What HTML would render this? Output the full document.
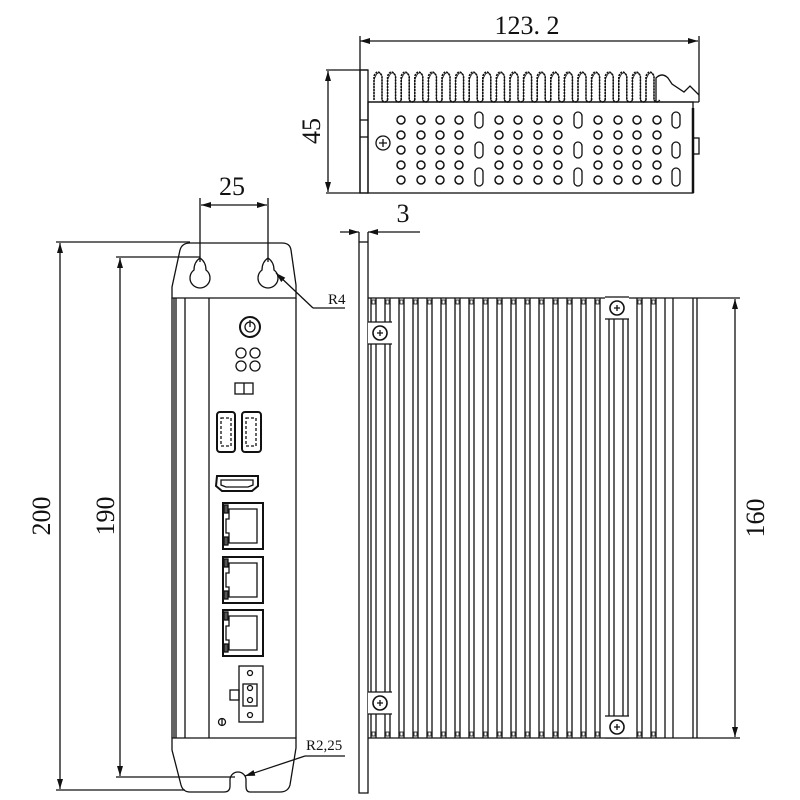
<!DOCTYPE html>
<html><head><meta charset="utf-8"><style>
html,body{margin:0;padding:0;background:#fff;}
svg{display:block;}
text{font-family:"Liberation Serif",serif;fill:#111;}
</style></head><body>
<svg id="s" width="800" height="800" viewBox="0 0 800 800" xmlns="http://www.w3.org/2000/svg" stroke="#111" fill="none" stroke-width="1.3">
<defs>
<marker id="a" viewBox="0 0 10 6" refX="10" refY="3" markerWidth="10" markerHeight="6" orient="auto-start-reverse" markerUnits="userSpaceOnUse"><path d="M0,0 L10,3 L0,6 z" fill="#111" stroke="none"/></marker>
</defs>
<!-- TOP VIEW -->
<line x1="360" y1="41" x2="698" y2="41" marker-start="url(#a)" marker-end="url(#a)"/>
<line x1="360" y1="36" x2="360" y2="193"/>
<line x1="699" y1="36" x2="699" y2="102"/>
<text x="527" y="34" font-size="26" text-anchor="middle" stroke="none">123. 2</text>
<line x1="326" y1="70" x2="368" y2="70"/>
<line x1="326" y1="193" x2="368" y2="193"/>
<line x1="328" y1="71" x2="328" y2="192" marker-start="url(#a)" marker-end="url(#a)"/>
<text x="0" y="0" font-size="26" text-anchor="middle" stroke="none" transform="translate(320,131) rotate(-90)">45</text>
<rect x="360" y="70" width="8" height="123"/>
<line x1="360" y1="120" x2="368" y2="120"/><line x1="360" y1="137" x2="368" y2="137"/>
<line x1="368" y1="102" x2="699" y2="102"/>
<rect x="368" y="102" width="325" height="91"/>
<line x1="693" y1="108" x2="693" y2="193" stroke-width="2.5"/>
<rect x="693" y="138" width="6" height="16"/>
<path d="M656,102 L656,78 Q662,72 668,78 L672,84 L684,92 L690,86 L699,95"/>
<g id="topfins"></g>
<g id="holes"></g>
<circle cx="383" cy="143" r="7"/><path d="M379,143h8M383,139v8"/>
<!-- FRONT VIEW -->
<line x1="56" y1="242" x2="190" y2="242"/>
<line x1="56" y1="790" x2="185" y2="790"/>
<line x1="60" y1="243" x2="60" y2="789" marker-start="url(#a)" marker-end="url(#a)"/>
<text font-size="26" text-anchor="middle" stroke="none" transform="translate(50,516) rotate(-90)">200</text>
<line x1="116" y1="257" x2="200" y2="257"/>
<line x1="116" y1="777" x2="235" y2="777"/>
<line x1="120" y1="258" x2="120" y2="776" marker-start="url(#a)" marker-end="url(#a)"/>
<text font-size="26" text-anchor="middle" stroke="none" transform="translate(114,516) rotate(-90)">190</text>
<line x1="200" y1="198" x2="200" y2="262"/>
<line x1="268" y1="198" x2="268" y2="262"/>
<line x1="201" y1="205" x2="267" y2="205" marker-start="url(#a)" marker-end="url(#a)"/>
<text x="232" y="195" font-size="26" text-anchor="middle" stroke="none">25</text>
<!-- bracket -->
<path d="M172,298 L172,287 L180,250 Q182,243 190,243 L282,243 Q290,243 291,250 L296,285 L296,298 Z"/>
<path d="M194,270 Q194,262 200,258 Q206,262 206,270 A10,10 0 1 1 194,270 Z"/>
<path d="M262,270 Q262,262 268,258 Q274,262 274,270 A10,10 0 1 1 262,270 Z"/>
<line x1="276" y1="273" x2="313" y2="308" marker-start="url(#a)"/>
<line x1="313" y1="308" x2="345" y2="308"/>
<text x="328" y="304" font-size="15" stroke="none" font-family="Liberation Mono">R4</text>
<!-- body -->
<line x1="172" y1="298" x2="172" y2="738"/>
<line x1="174" y1="298" x2="174" y2="738"/>
<line x1="176" y1="298" x2="176" y2="738"/>
<line x1="185" y1="298" x2="185" y2="738"/>
<line x1="209" y1="298" x2="209" y2="738"/>
<line x1="296" y1="298" x2="296" y2="738"/>
<!-- foot -->
<path d="M172,738 L296,738 L296,748 L290,785 Q288,792 280,792 L250,792 Q246,792 246,786 L246,780 A8,8 0 0 0 230,780 L230,786 Q230,792 224,792 L190,792 Q183,792 181,785 L172,750 Z"/>
<line x1="245" y1="776" x2="305" y2="756" marker-start="url(#a)"/>
<line x1="305" y1="756" x2="345" y2="756"/>
<text x="306" y="750" font-size="15" stroke="none" font-family="Liberation Mono">R2,25</text>
<!-- panel items -->
<circle cx="250" cy="327" r="10" stroke-width="2"/><circle cx="250" cy="327" r="5"/><line x1="250" y1="320" x2="250" y2="327"/>
<circle cx="241" cy="353" r="5"/><circle cx="255" cy="353" r="5"/><circle cx="241" cy="366" r="5"/><circle cx="255" cy="366" r="5"/>
<rect x="235" y="383" width="18" height="11"/><line x1="244" y1="383" x2="244" y2="394"/>
<rect x="217" y="412" width="18" height="40" rx="3" stroke-width="2"/><rect x="221" y="418" width="10" height="28" stroke-dasharray="3 2"/>
<rect x="242" y="412" width="19" height="40" rx="3" stroke-width="2"/><rect x="246" y="418" width="10" height="28" stroke-dasharray="3 2"/>
<path d="M217,476 L258,476 L258,486 L252,491 L222,491 L216,486 Z" stroke-width="2"/><path d="M221,480 L253,480 L253,485 L248,487 L226,487 L221,485 Z"/>
<g id="rj"></g>
<rect x="239" y="666" width="24" height="56"/>
<rect x="230" y="690" width="9" height="10"/>
<rect x="243" y="684" width="14" height="22"/>
<circle cx="250" cy="673" r="2.5"/><circle cx="250" cy="688" r="2.5"/><circle cx="250" cy="700" r="2.5"/><circle cx="250" cy="715" r="2.5"/>
<circle cx="222" cy="722" r="3.5"/><line x1="222" y1="719" x2="222" y2="725"/>
<!-- SIDE VIEW -->
<line x1="340" y1="232" x2="359" y2="232" marker-end="url(#a)"/>
<line x1="420" y1="232" x2="368" y2="232" marker-end="url(#a)"/>
<text x="403" y="222" font-size="26" text-anchor="middle" stroke="none">3</text>
<path d="M359,232 L359,793 L368,793 L368,232"/>
<line x1="359" y1="242" x2="368" y2="242"/>
<line x1="368" y1="298" x2="740" y2="298"/>
<line x1="368" y1="738" x2="740" y2="738"/>
<line x1="735" y1="299" x2="735" y2="737" marker-start="url(#a)" marker-end="url(#a)"/>
<text font-size="26" text-anchor="middle" stroke="none" transform="translate(764,518) rotate(-90)">160</text>
<g id="sidefins"></g>
</svg>
<script>
var NS="http://www.w3.org/2000/svg";
function el(p,t,a){var e=document.createElementNS(NS,t);for(var k in a)e.setAttribute(k,a[k]);document.getElementById(p).appendChild(e);return e;}
var d="";
for(var i=0;i<21;i++){var x=374+i*13.6;
 d+="M"+x+",100 L"+x+",76 Q"+(x+4)+",68 "+(x+8)+",76 L"+(x+8)+",100 Q"+(x+10.8)+",104 "+(x+13.6)+",100 ";}
el("topfins","path",{d:d,"stroke-width":"1.6","stroke-dasharray":"2 1"});
el("topfins","path",{d:d.replace(/L(\d+\.?\d*),76/g,"L$1,80"),"stroke-width":"0.8"});
var cols=[401,421,440,459,479,499,518,538,558,578,598,618,637,657,676];
var rows=[120,135,150,165,180];
var slotCols={479:1,578:1,676:1};
cols.forEach(function(cx){
 if(slotCols[cx]){[[112,128],[142,158],[168,186]].forEach(function(r){el("holes","rect",{x:cx-4,y:r[0],width:8,height:r[1]-r[0],rx:4});});}
 else rows.forEach(function(cy){ el("holes","circle",{cx:cx,cy:cy,r:4,"stroke-width":"1.5"});});
});
[503,557,610].forEach(function(y){
 el("rj","rect",{x:223,y:y,width:40,height:46,"stroke-width":"2"});
 el("rj","path",{d:"M229,"+(y+6)+" L257,"+(y+6)+" L257,"+(y+40)+" L229,"+(y+40)+" L229,"+(y+30)+" L226,"+(y+30)+" L226,"+(y+16)+" L229,"+(y+16)+" Z"});
 el("rj","rect",{x:224,y:y+2,width:4,height:8,fill:"#555"});
 el("rj","rect",{x:224,y:y+34,width:4,height:8,fill:"#555"});
});
for(var i=0;i<21;i++){var x=371+i*14;
 var y1=298,y2=738;
 el("sidefins","line",{x1:x,y1:y1,x2:x,y2:y2});
 el("sidefins","line",{x1:x+5,y1:y1,x2:x+5,y2:y2});
 el("sidefins","rect",{x:x+1,y:y1+2,width:3,height:4,"stroke-width":"0.8"});
 el("sidefins","rect",{x:x+1,y:y2-6,width:3,height:4,"stroke-width":"0.8"});
}
[665,673,693,697].forEach(function(x){el("sidefins","line",{x1:x,y1:298,x2:x,y2:738});});
[[380,333],[380,703],[617,308],[617,727]].forEach(function(p){
 el("sidefins","rect",{x:p[0]-12,y:p[1]-11,width:24,height:22,fill:"#fff",stroke:"none"});
 el("sidefins","line",{x1:p[0]-12,y1:p[1]-11,x2:p[0]+12,y2:p[1]-11});
 el("sidefins","line",{x1:p[0]-12,y1:p[1]+11,x2:p[0]+12,y2:p[1]+11});
 el("sidefins","circle",{cx:p[0],cy:p[1],r:7,"stroke-width":"1.6"});
 el("sidefins","path",{d:"M"+(p[0]-3)+","+p[1]+"h6M"+p[0]+","+(p[1]-3)+"v6"});
});
</script>
</body></html>
